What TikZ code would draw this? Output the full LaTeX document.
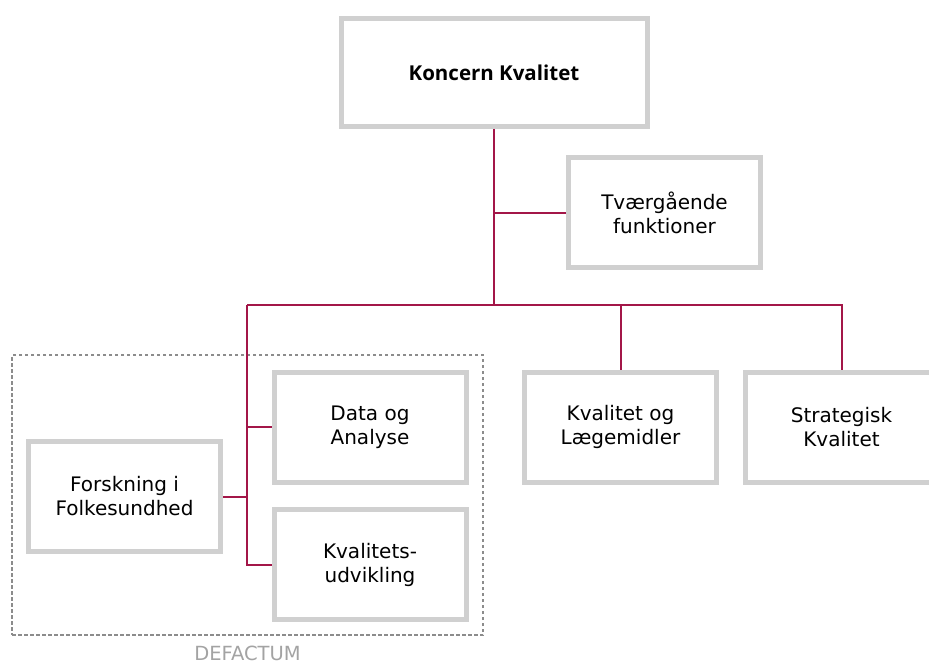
\documentclass[tikz,border=0pt]{standalone}
\usepackage{fontspec}
\setmainfont{DejaVu Sans}
\newfontfamily\titlefont{Open Sans}
\usetikzlibrary{positioning}
\definecolor{boxgray}{RGB}{208,208,208}
\definecolor{linkred}{RGB}{163,22,72}
\definecolor{dashgray}{RGB}{140,140,140}

\begin{document}
\begin{tikzpicture}[x=1pt,y=-1pt,on grid,
    unit/.style={draw=boxgray,line width=5pt,minimum width=192pt,minimum height=110pt,
      inner sep=0pt,align=center,font=\fontsize{20}{24}\selectfont},
    link/.style={draw=linkred,line width=2pt},
    group/.style={draw=dashgray,line width=2pt,dash pattern=on 3.5pt off 2.5pt}]
      \useasboundingbox (0,0) rectangle (929,668);
      \node[group, minimum width=471pt, minimum height=280pt] (grp) at (247.5,495) {};
      \node[text=dashgray!80, font=\fontsize{19.5}{24}\selectfont] (defactum) [below=158pt of grp] {DEFACTUM};
      \node[unit] (data) at (370,427) {Data og\\Analyse};
      \node[unit] (udv) [below=137.5pt of data] {Kvalitets-\\udvikling};
      \node[unit] (forsk) [below left=69.5pt and 245.5pt of data] {Forskning i\\Folkesundhed};
      \node[unit] (laege) [right=250.5pt of data] {Kvalitet og\\Lægemidler};
      \node[unit] (strat) [right=221pt of laege] {Strategisk\\Kvalitet};
      \node[unit] (tvaer) [above right=214pt and 44pt of laege] {Tværgående\\funktioner};
      \node[unit, minimum width=306pt, minimum height=108pt, font=\fontsize{20.5}{24}\titlefont\bfseries]
        (koncern) [above left=140.5pt and 170.5pt of tvaer] {Koncern Kvalitet};
      \coordinate (bus) at (247,305);
      % connectors
      \draw[link] (koncern.south) -- (koncern.south |- bus);
      \draw[link] (tvaer.west) -- (tvaer.west -| koncern.south);
      \draw[link] (bus) -| (strat.north);
      \draw[link] (laege.north) -- (laege.north |- bus);
      \draw[link] (bus) |- (udv.west);
      \draw[link] (data.west) -- (data.west -| bus);
      \draw[link] (forsk.east) -- (forsk.east -| bus);
\end{tikzpicture}
\end{document}
